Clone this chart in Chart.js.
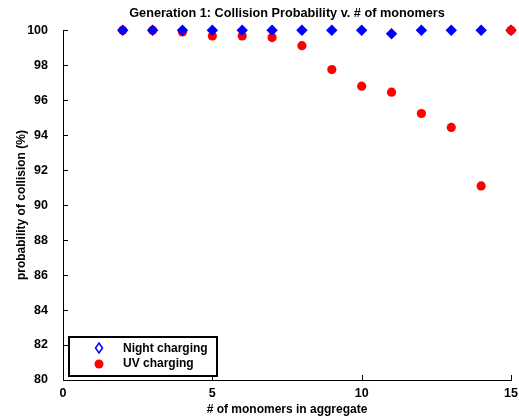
<!DOCTYPE html>
<html>
<head>
<meta charset="utf-8">
<script src="https://cdn.jsdelivr.net/npm/chart.js@4"></script>
<style>
  html, body { margin: 0; padding: 0; background: #fff; }
  #wrap { width: 519px; height: 419px; }
</style>
</head>
<body>
<div id="wrap"><canvas id="collisionChart"></canvas></div>
<script>
// monomers in the aggregate
const monomers = [2, 3, 4, 5, 6, 7, 8, 9, 10, 11, 12, 13, 14, 15];
// probability of collision (%)
const nightCharging = [100, 100, 100, 100, 100, 100, 100, 100, 100, 99.8, 100, 100, 100, 100];
const uvCharging = [100, 100, 99.9, 99.67, 99.67, 99.58, 99.12, 97.75, 96.8, 96.46, 95.24, 94.44, 91.1, 100];
const xTicks = [0, 5, 10, 15];

const FONT = "'Liberation Sans', Arial, sans-serif";

function toPoints(ys) {
  return monomers.map((x, i) => ({ x: x, y: ys[i] }));
}

// in the original the last red dot sits over the diamond, the others under it
const uvPoints = toPoints(uvCharging);
const uvUnder = uvPoints.slice(0, -1);
const uvOver = uvPoints.slice(-1);

const uvStyle = {
  pointStyle: "circle",
  pointRadius: 4.6,
  pointHoverRadius: 4.6,
  backgroundColor: "#ff0000",
  borderColor: "#ff0000",
  borderWidth: 0,
  clip: false,
};

// inward tick marks, like the original plot
const inwardTicks = {
  id: "inwardTicks",
  afterDraw(chart) {
    const ctx = chart.ctx;
    const x = chart.scales.x;
    const y = chart.scales.y;
    const area = chart.chartArea;
    ctx.save();
    ctx.strokeStyle = "#000";
    ctx.lineWidth = 1;
    ctx.beginPath();
    xTicks.forEach((v) => {
      const px = Math.round(x.getPixelForValue(v)) + 0.5;
      ctx.moveTo(px, area.bottom);
      ctx.lineTo(px, area.bottom - 5);
    });
    y.ticks.forEach((t) => {
      const py = Math.round(y.getPixelForValue(t.value)) + 0.5;
      ctx.moveTo(area.left, py);
      ctx.lineTo(area.left + 5, py);
    });
    ctx.stroke();
    ctx.restore();
  },
};

// legend box sitting inside the lower left corner
const insideLegend = {
  id: "insideLegend",
  afterDraw(chart) {
    const ctx = chart.ctx;
    const area = chart.chartArea;
    const left = area.left + 6;
    const bottom = area.bottom - 4;
    const w = 148, h = 39;
    const top = bottom - h;
    ctx.save();
    ctx.fillStyle = "#fff";
    ctx.fillRect(left, top, w, h);
    ctx.strokeStyle = "#000";
    ctx.lineWidth = 2;
    ctx.strokeRect(left, top, w, h);

    const sx = left + 30;
    // Night charging: open diamond
    let cy = top + 11;
    ctx.strokeStyle = "#0000ff";
    ctx.lineWidth = 1.5;
    ctx.beginPath();
    ctx.moveTo(sx, cy - 5);
    ctx.lineTo(sx + 3.5, cy);
    ctx.lineTo(sx, cy + 5);
    ctx.lineTo(sx - 3.5, cy);
    ctx.closePath();
    ctx.stroke();
    ctx.fillStyle = "#000";
    ctx.font = "bold 12px " + FONT;
    ctx.textBaseline = "middle";
    ctx.fillText("Night charging", left + 54, cy + 1);

    // UV charging: filled circle
    cy = top + 27;
    ctx.fillStyle = "#ff0000";
    ctx.beginPath();
    ctx.arc(sx, cy, 4.5, 0, Math.PI * 2);
    ctx.fill();
    ctx.fillStyle = "#000";
    ctx.fillText("UV charging", left + 54, cy);
    ctx.restore();
  },
};

new Chart(document.getElementById("collisionChart"), {
  type: "scatter",
  data: {
    datasets: [
      { label: "UV charging", data: uvOver, order: 0, ...uvStyle },
      {
        label: "Night charging",
        data: toPoints(nightCharging),
        order: 1,
        pointStyle: "rectRot",
        pointRadius: 5.7,
        pointHoverRadius: 5.7,
        backgroundColor: "#0000ff",
        borderColor: "#0000ff",
        borderWidth: 0,
        clip: false,
      },
      { label: "UV charging", data: uvUnder, order: 2, ...uvStyle },
    ],
  },
  options: {
    responsive: true,
    maintainAspectRatio: false,
    animation: false,
    layout: { padding: { left: 0, right: 0, top: 0, bottom: 0 } },
    plugins: {
      legend: { display: false },
      tooltip: { enabled: false },
      title: {
        display: true,
        fullSize: false,
        text: "Generation 1: Collision Probability v. # of monomers",
        color: "#000",
        font: { family: FONT, size: 12.7, weight: "bold" },
        padding: { top: 6, bottom: 9 },
      },
    },
    scales: {
      x: {
        type: "linear",
        min: 0,
        max: 15,
        afterBuildTicks(scale) {
          scale.ticks = xTicks.map((v) => ({ value: v }));
        },
        afterFit(scale) {
          scale.height = 39;
          scale.paddingRight = 8;
        },
        grid: { display: false, drawTicks: false },
        border: { display: true, color: "#000", width: 1 },
        ticks: {
          color: "#000",
          padding: 6,
          font: { family: FONT, size: 12.5, weight: "bold" },
        },
        title: {
          display: true,
          text: "# of monomers in aggregate",
          color: "#000",
          font: { family: FONT, size: 12, weight: "bold" },
          padding: { top: 0, bottom: 2 },
        },
      },
      y: {
        type: "linear",
        min: 80,
        max: 100,
        afterFit(scale) {
          scale.width = 63;
        },
        grid: { display: false, drawTicks: false },
        border: { display: true, color: "#000", width: 1 },
        ticks: {
          stepSize: 2,
          color: "#000",
          padding: 15,
          font: { family: FONT, size: 12.5, weight: "bold" },
        },
        title: {
          display: true,
          text: "probability of collision (%)",
          color: "#000",
          font: { family: FONT, size: 12, weight: "bold" },
          padding: { top: 14, bottom: 0 },
        },
      },
    },
  },
  plugins: [inwardTicks, insideLegend],
});
</script>
</body>
</html>
